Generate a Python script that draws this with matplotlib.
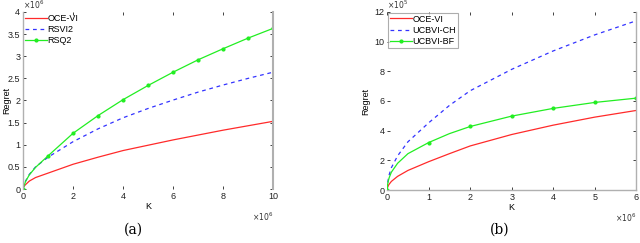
import matplotlib
matplotlib.use("Agg")
import matplotlib.pyplot as plt
import numpy as np

plt.rcParams['font.family'] = ['Liberation Sans', 'DejaVu Sans']

# ---- Panel (a) data (K in 1e6, Regret in 1e6)
k_a = [0, 0.02, 0.05, 0.1, 0.25, 0.5, 1, 2, 3, 4, 5, 6, 7, 8, 9, 10]
oce_a = [0, 0.04, 0.07, 0.10, 0.18, 0.26, 0.36, 0.56, 0.72, 0.87, 0.99, 1.11, 1.22, 1.33, 1.43, 1.53]
rsvi2_a = [0, 0.05, 0.10, 0.18, 0.33, 0.50, 0.72, 1.07, 1.36, 1.61, 1.82, 2.01, 2.19, 2.35, 2.50, 2.64]
rsq2_a = [0, 0.04, 0.09, 0.17, 0.32, 0.49, 0.75, 1.26, 1.66, 2.02, 2.34, 2.64, 2.92, 3.17, 3.41, 3.63]
mk_a = [0, 1, 2, 3, 4, 5, 6, 7, 8, 9, 10]
mk_rsq2_a = [0, 0.75, 1.26, 1.66, 2.02, 2.34, 2.64, 2.92, 3.17, 3.41, 3.63]

# ---- Panel (b) data (K in 1e6, Regret in 1e5)
k_b = [0, 0.01, 0.03, 0.05, 0.1, 0.25, 0.5, 1, 1.5, 2, 3, 4, 5, 6]
oce_b = [0, 0.18, 0.32, 0.40, 0.58, 0.92, 1.32, 1.91, 2.45, 2.97, 3.74, 4.37, 4.91, 5.36]
ucbch_b = [0, 0.45, 0.80, 1.05, 1.50, 2.30, 3.25, 4.53, 5.70, 6.69, 8.13, 9.37, 10.45, 11.40]
ucbbf_b = [0, 0.38, 0.65, 0.85, 1.20, 1.80, 2.45, 3.20, 3.80, 4.28, 4.98, 5.50, 5.90, 6.19]
mk_b = [0, 1, 2, 3, 4, 5, 6]
mk_ucbbf_b = [0, 3.20, 4.28, 4.98, 5.50, 5.90, 6.19]

labels_a = ["OCE-VI", "RSVI2", "RSQ2"]
labels_b = ["OCE-VI", "UCBVI-CH", "UCBVI-BF"]

fig = plt.figure(figsize=(6.4, 2.43), dpi=100)
axa = fig.add_axes([0.036, 0.222, 0.391, 0.729])
axb = fig.add_axes([0.605, 0.218, 0.389, 0.733])

fs = 6.5
for ax in (axa, axb):
    ax.tick_params(direction='in', length=2, width=0.6, labelsize=fs, colors='#222222',
                   top=True, right=True, pad=2)
    for s in ax.spines.values():
        s.set_color('#b0b0b0')
        s.set_linewidth(1.0)
    ax.spines['top'].set_visible(False)

# Panel (a)
axa.plot(k_a, oce_a, color='#ff2a2a', lw=0.9, label=labels_a[0])
axa.plot(k_a, rsvi2_a, color='#3333ff', lw=0.9, ls=(0, (3, 3)), label=labels_a[1])
axa.plot(k_a, rsq2_a, color='#22ee22', lw=0.9, label='_nolegend_')
axa.plot(mk_a, mk_rsq2_a, color='#22ee22', lw=0, marker='o', ms=2)
axa.plot([], [], color='#22ee22', lw=0.9, marker='o', ms=2, label=labels_a[2])
axa.set_xlim(0, 10)
axa.set_ylim(0, 4)
axa.set_xticks([0, 2, 4, 6, 8, 10])
axa.set_xticklabels(['0', '2', '4', '6', '8', '10'])
axa.set_yticks([0, 0.5, 1, 1.5, 2, 2.5, 3, 3.5, 4])
axa.set_yticklabels(['0', '0.5', '1', '1.5', '2', '2.5', '3', '3.5', '4'])
axa.spines['bottom'].set_visible(False)
axa.spines['right'].set_linewidth(1.5)
axa.set_xlabel('K', fontsize=fs, labelpad=1)
axa.set_ylabel('Regret', fontsize=fs)
axa.yaxis.set_label_coords(-0.048, 0.5)
axa.text(0.0, 1.005, r'$\times10^6$', transform=axa.transAxes, fontsize=5.5, color='#333333',
         ha='left', va='bottom')
axa.text(1.0, -0.12, r'$\times10^6$', transform=axa.transAxes, fontsize=5.5, color='#333333',
         ha='right', va='top')
leg = axa.legend(loc='upper left', fontsize=fs, frameon=False, handlelength=2.4,
                 handletextpad=0.1, borderaxespad=0.1, labelspacing=0.25,
                 borderpad=0.1)

# Panel (b)
axb.plot(k_b, oce_b, color='#ff2a2a', lw=0.9, label=labels_b[0])
axb.plot(k_b, ucbch_b, color='#3333ff', lw=0.9, ls=(0, (3, 3)), label=labels_b[1])
axb.plot(k_b, ucbbf_b, color='#22ee22', lw=0.9, label='_nolegend_')
axb.plot(mk_b, mk_ucbbf_b, color='#22ee22', lw=0, marker='o', ms=2)
axb.plot([], [], color='#22ee22', lw=0.9, marker='o', ms=2, label=labels_b[2])
axb.set_xlim(0, 6)
axb.set_ylim(0, 12)
axb.set_xticks([0, 1, 2, 3, 4, 5, 6])
axb.set_yticks([0, 2, 4, 6, 8, 10, 12])
axb.spines['left'].set_visible(False)
axb.set_xlabel('K', fontsize=fs, labelpad=1)
axb.set_ylabel('Regret', fontsize=fs, labelpad=3)
axb.text(0.0, 1.005, r'$\times10^5$', transform=axb.transAxes, fontsize=5.5, color='#333333',
         ha='left', va='bottom')
axb.text(1.0, -0.12, r'$\times10^6$', transform=axb.transAxes, fontsize=5.5, color='#333333',
         ha='right', va='top')
legb = axb.legend(loc='upper left', fontsize=fs, frameon=True, fancybox=False,
                  handlelength=2.4, handletextpad=0.1, borderaxespad=0.1,
                  labelspacing=0.25, borderpad=0.2)
legb.get_frame().set_edgecolor('#999999')
legb.get_frame().set_linewidth(0.8)

# captions
fig.text(133 / 640, 1 - 230 / 243, '(a)', fontsize=10, family='DejaVu Serif', ha='center', va='center')
fig.text(500 / 640, 1 - 230 / 243, '(b)', fontsize=10, family='DejaVu Serif', ha='center', va='center')

fig.savefig('out.png', dpi=100)
